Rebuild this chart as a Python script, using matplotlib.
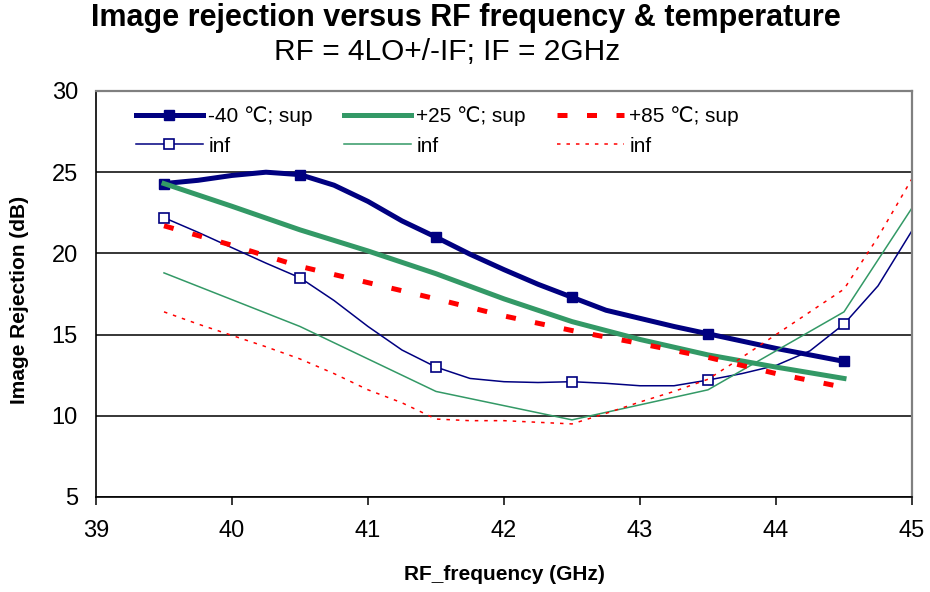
import matplotlib
matplotlib.use("Agg")
import matplotlib.pyplot as plt
import numpy as np

plt.rcParams['font.family'] = ['Liberation Sans', 'DejaVu Sans']

# ---- data -------------------------------------------------------------
freq_q = [39.5, 39.75, 40.0, 40.25, 40.5, 40.75, 41.0, 41.25, 41.5, 41.75, 42.0,
          42.25, 42.5, 42.75, 43.0, 43.25, 43.5, 43.75, 44.0, 44.25, 44.5]
freq_q_ext = freq_q + [44.75, 45.0]
freq_h = [39.5, 40.0, 40.5, 41.0, 41.5, 42.0, 42.5, 43.0, 43.5, 44.0, 44.5]
freq_1 = [39.5, 40.5, 41.5, 42.5, 43.5, 44.5, 45.0]

m40_sup = [24.3, 24.5, 24.8, 25.0, 24.85, 24.2, 23.2, 22.0, 21.0, 19.95, 19.0,
           18.1, 17.3, 16.5, 16.0, 15.5, 15.05, 14.6, 14.15, 13.75, 13.35]
m40_inf = [22.2, 21.3, 20.35, 19.4, 18.5, 17.1, 15.5, 14.05, 13.0, 12.3, 12.1,
           12.05, 12.1, 12.0, 11.85, 11.85, 12.2, 12.6, 13.1, 14.0, 15.65, 18.0, 21.4]
p25_sup = [24.3, 22.9, 21.45, 20.15, 18.75, 17.2, 15.8, 14.7, 13.75, 13.0, 12.3]
p25_inf = [18.8, 15.5, 11.5, 9.75, 11.6, 16.4, 22.8]
p85_sup = [21.7, 20.5, 19.2, 18.2, 17.2, 16.15, 15.25, 14.45, 13.6, 12.6, 11.75]
p85_inf = [16.4, 15.65, 14.95, 14.25, 13.5, 12.6, 11.6, 10.8, 9.8, 9.7, 9.7,
           9.6, 9.5, 10.15, 10.85, 11.5, 12.25, 13.6, 15.0, 16.4, 17.8, 21.0, 24.6]

labels = ['-40 \u2103; sup', 'inf', '+25 \u2103; sup', 'inf', '+85 \u2103; sup', 'inf']
x_ticks = [39, 40, 41, 42, 43, 44, 45]
y_ticks = [5, 10, 15, 20, 25, 30]

title = 'Image rejection versus RF frequency & temperature'
subtitle = 'RF = 4LO+/-IF; IF = 2GHz'
xlabel = 'RF_frequency (GHz)'
ylabel = 'Image Rejection (dB)'

# ---- style ------------------------------------------------------------
NAVY = '#000080'
GREEN = '#339966'
RED = '#FF0000'

fig = plt.figure(figsize=(9.30, 5.92), dpi=100)
ax = fig.add_axes([96 / 930, 1 - 497 / 592, 816 / 930, 406 / 592])

ax.plot(freq_q, m40_sup, color=NAVY, lw=3.6, marker='s', ms=7, mfc=NAVY,
        mec=NAVY, markevery=4, solid_joinstyle='round', label=labels[0])
ax.plot(freq_q_ext, m40_inf, color=NAVY, lw=1.1, marker='s', ms=7, mfc='white',
        mec=NAVY, mew=1.2, markevery=4, label=labels[1])
ax.plot(freq_h, p25_sup, color=GREEN, lw=3.6, solid_joinstyle='round', label=labels[2])
ax.plot(freq_1, p25_inf, color=GREEN, lw=1.1, label=labels[3])
ax.plot(freq_h, p85_sup, color=RED, lw=3.6, linestyle=(0, (2.0, 3.9)),
        dash_capstyle='butt', label=labels[4])
ax.plot(freq_q_ext, p85_inf, color=RED, lw=1.1, linestyle=(0, (2.3, 3.9)),
        dash_capstyle='butt', label=labels[5])

ax.set_xlim(x_ticks[0], x_ticks[-1])
ax.set_ylim(y_ticks[0], y_ticks[-1])
ax.set_xticks(x_ticks)
ax.set_yticks(y_ticks)
ax.tick_params(axis='x', direction='out', length=5.5, width=1.1, pad=11,
               labelsize=17, colors='black')
ax.tick_params(axis='y', length=0, pad=13, labelsize=17)

ax.set_axisbelow(True)
ax.yaxis.grid(True, color='black', lw=1.1)
ax.xaxis.grid(False)

for side in ['left', 'bottom']:
    ax.spines[side].set_color('black')
    ax.spines[side].set_linewidth(1.2)
for side in ['top', 'right']:
    ax.spines[side].set_color('#808080')
    ax.spines[side].set_linewidth(1.6)

leg = ax.legend(loc='upper left', bbox_to_anchor=(40 / 816, 0.962), ncol=3,
                frameon=False, fontsize=15, handlelength=3.2, handletextpad=0.27,
                columnspacing=1.5, labelspacing=0.5, borderpad=0, borderaxespad=0,
                numpoints=1)

fig.text(465.5 / 930, 1 - 18 / 592, title, ha='center', va='center',
         fontsize=22, fontweight='bold')
fig.text(447.5 / 930, 1 - 52 / 592, subtitle, ha='center', va='center',
         fontsize=21.5)
fig.text(504 / 930, 1 - 575 / 592, xlabel, ha='center', va='center',
         fontsize=15, fontweight='bold')
fig.text(20 / 930, 1 - 300 / 592, ylabel, ha='center', va='center',
         fontsize=15, fontweight='bold', rotation=90)

fig.savefig('out.png', dpi=100)
